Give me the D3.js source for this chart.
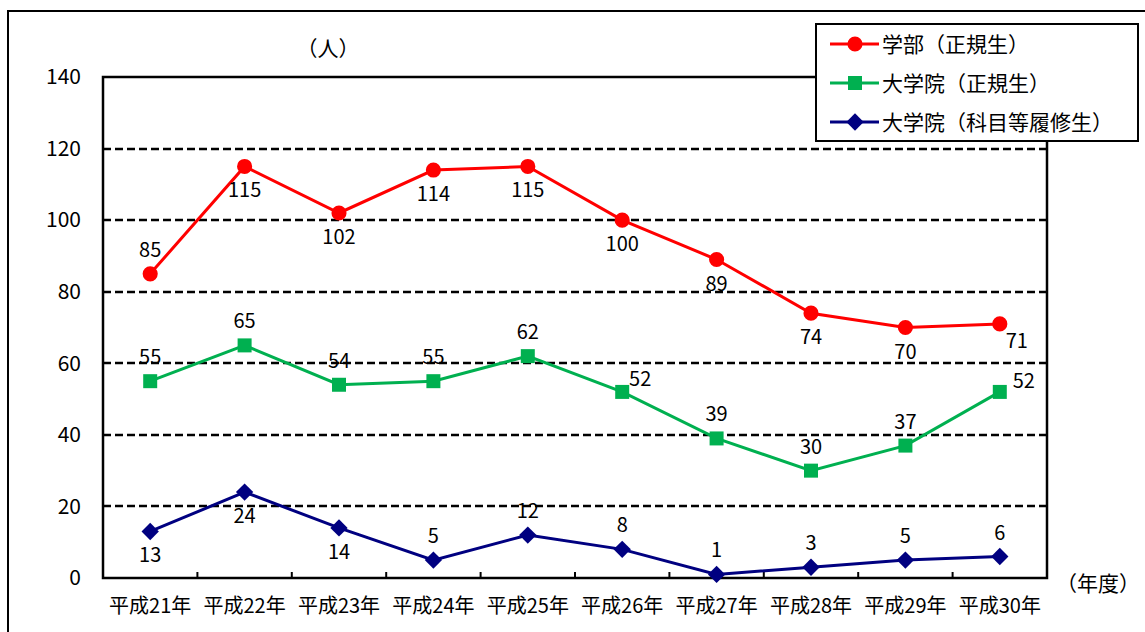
<!DOCTYPE html>
<html>
<head>
<meta charset="utf-8">
<script src="https://cdn.jsdelivr.net/npm/d3@7"></script>
<style>
  body { margin: 0; background: #fff; }
  svg { display: block; font-family: 'Noto Sans CJK JP', sans-serif; }
</style>
</head>
<body>
<div id="chart"><svg></svg></div>
<script>
// data
const years = ['平成21年', '平成22年', '平成23年', '平成24年', '平成25年',
  '平成26年', '平成27年', '平成28年', '平成29年', '平成30年']
const seriesNames = ['学部（正規生）', '大学院（正規生）', '大学院（科目等履修生）']
const undergrad = [85, 115, 102, 114, 115, 100, 89, 74, 70, 71]
const graduate = [55, 65, 54, 55, 62, 52, 39, 30, 37, 52]
const credited = [13, 24, 14, 5, 12, 8, 1, 3, 5, 6]
const yTicks = [0, 20, 40, 60, 80, 100, 120, 140]

// where each value label sits relative to its point
const undergradPos = ['above', 'below', 'below', 'below', 'below', 'below', 'below', 'below', 'below', 'belowright']
const graduatePos = ['above', 'above', 'above', 'above', 'above', 'aboveright', 'above', 'above', 'above', 'right']
const creditedPos = ['below', 'below', 'below', 'above', 'above', 'above', 'above', 'above', 'above', 'above']

const width = 1145
const height = 632
const margin = { left: 103, top: 77, right: 98, bottom: 54 }

const svg = d3.select('#chart').select('svg')
  .attr('width', width)
  .attr('height', height)

// outer frame
svg.append('path')
  .attr('d', 'M8,' + height + 'V11H' + width)
  .attr('fill', 'none')
  .attr('stroke', '#000')
  .attr('stroke-width', 2)

const x = d3.scaleBand()
  .domain(years)
  .range([margin.left, width - margin.right])

const y = d3.scaleLinear()
  .domain([0, 140])
  .range([height - margin.bottom, margin.top])

// dashed grid lines
svg.append('g')
  .selectAll('line')
  .data(yTicks.filter((d) => d > 0 && d < 140))
  .enter()
  .append('line')
  .attr('x1', margin.left)
  .attr('x2', width - margin.right)
  .attr('y1', (d) => Math.round(y(d)))
  .attr('y2', (d) => Math.round(y(d)))
  .attr('stroke', '#000')
  .attr('stroke-width', 2.5)
  .attr('stroke-dasharray', '8,4')

// plot frame
svg.append('rect')
  .attr('x', margin.left)
  .attr('y', margin.top)
  .attr('width', width - margin.right - margin.left)
  .attr('height', height - margin.bottom - margin.top)
  .attr('fill', 'none')
  .attr('stroke', '#000')
  .attr('stroke-width', 2.5)

// y axis labels
const yAxis = d3.axisLeft(y).tickValues(yTicks).tickSize(0).tickPadding(22)
svg.append('g')
  .attr('class', 'y axis')
  .attr('transform', 'translate(' + margin.left + ',0)')
  .call(yAxis)
  .call((g) => g.select('.domain').remove())
  .selectAll('text')
  .attr('font-size', 21)
  .attr('font-family', "'Noto Sans CJK JP', sans-serif")
  .attr('fill', '#000')

// x axis: ticks between categories pointing inward
svg.append('g')
  .selectAll('line')
  .data(years.slice(1))
  .enter()
  .append('line')
  .attr('x1', (d) => x(d))
  .attr('x2', (d) => x(d))
  .attr('y1', y(0))
  .attr('y2', y(0) - 6)
  .attr('stroke', '#000')
  .attr('stroke-width', 2)

svg.append('g')
  .selectAll('text')
  .data(years)
  .enter()
  .append('text')
  .attr('x', (d) => x(d) + x.bandwidth() / 2)
  .attr('y', 613)
  .attr('text-anchor', 'middle')
  .attr('font-size', 20)
  .text((d) => d)

svg.append('text')
  .attr('x', 328)
  .attr('y', 56)
  .attr('text-anchor', 'middle')
  .attr('font-size', 21)
  .text('（人）')

svg.append('text')
  .attr('x', 1098)
  .attr('y', 591)
  .attr('text-anchor', 'middle')
  .attr('font-size', 21)
  .text('（年度）')

const cx = (i) => x(years[i]) + x.bandwidth() / 2
const line = d3.line()
  .x((d, i) => cx(i))
  .y((d) => y(d))

const series = [
  { values: undergrad, pos: undergradPos, color: '#ff0000', shape: d3.symbolCircle, size: 180, rotate: 0 },
  { values: graduate, pos: graduatePos, color: '#00b050', shape: d3.symbolSquare, size: 196, rotate: 0 },
  { values: credited, pos: creditedPos, color: '#000080', shape: d3.symbolSquare, size: 150, rotate: 45 }
]

const offsets = {
  above: [0, -17],
  below: [0, 31],
  belowright: [17, 24],
  aboveright: [18, -6],
  right: [24, -4]
}

series.forEach((s) => {
  svg.append('path')
    .datum(s.values)
    .attr('d', line)
    .attr('fill', 'none')
    .attr('stroke', s.color)
    .attr('stroke-width', 3)

  svg.append('g')
    .selectAll('path')
    .data(s.values)
    .enter()
    .append('path')
    .attr('d', d3.symbol().type(s.shape).size(s.size))
    .attr('transform', (d, i) => 'translate(' + cx(i) + ',' + y(d) + ') rotate(' + s.rotate + ')')
    .attr('fill', s.color)

  svg.append('g')
    .selectAll('text')
    .data(s.values)
    .enter()
    .append('text')
    .attr('x', (d, i) => cx(i) + offsets[s.pos[i]][0])
    .attr('y', (d, i) => y(d) + offsets[s.pos[i]][1])
    .attr('text-anchor', 'middle')
    .attr('font-size', 20)
    .text((d) => d)
})

// legend
const legend = svg.append('g')
  .attr('transform', 'translate(816,24)')

legend.append('rect')
  .attr('width', 322)
  .attr('height', 117)
  .attr('fill', '#fff')
  .attr('stroke', '#000')
  .attr('stroke-width', 2)

series.forEach((s, i) => {
  const row = legend.append('g')
    .attr('transform', 'translate(0,' + (20 + i * 39) + ')')
  row.append('line')
    .attr('x1', 14)
    .attr('x2', 63)
    .attr('stroke', s.color)
    .attr('stroke-width', 3)
  row.append('path')
    .attr('d', d3.symbol().type(s.shape).size(s.size))
    .attr('transform', 'translate(39,0) rotate(' + s.rotate + ')')
    .attr('fill', s.color)
  row.append('text')
    .attr('x', 66)
    .attr('y', 8)
    .attr('font-size', 21)
    .text(seriesNames[i])
})
</script>
</body>
</html>
